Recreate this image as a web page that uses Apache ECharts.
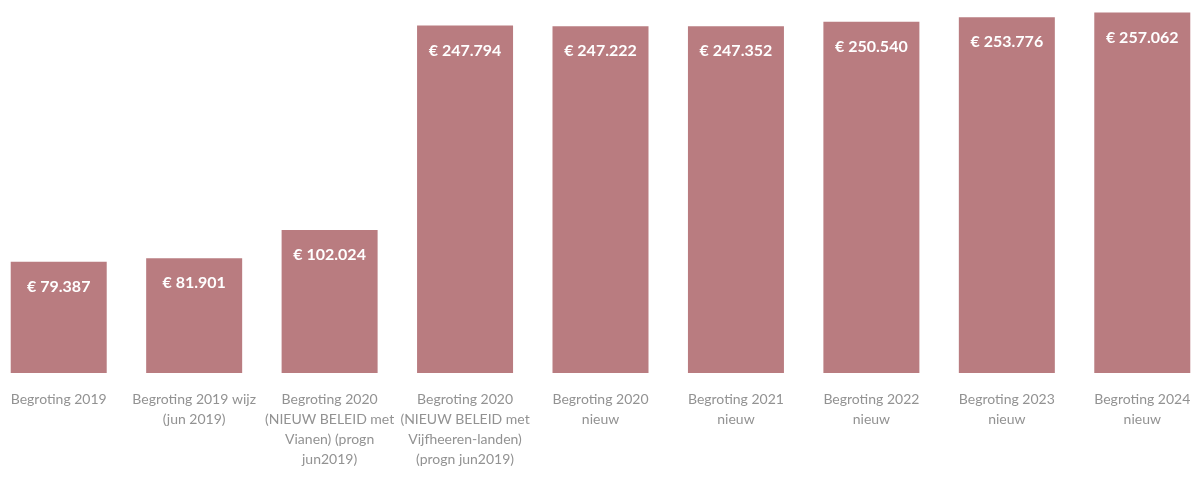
<!DOCTYPE html>
<html>
<head>
<meta charset="utf-8">
<script src="https://cdn.jsdelivr.net/npm/echarts@6/dist/echarts.min.js"></script>
<style>
    html, body { margin: 0; padding: 0; background: #fff; overflow: hidden; }
    #main { position: absolute; left: -9px; top: 0; width: 1219px; height: 480px; }
</style>
</head>
<body>
<div id="main"></div>
<script>
    "use strict";

    var categories = [
        "Begroting 2019",
        "Begroting 2019 wijz\n(jun 2019)",
        "Begroting 2020\n(NIEUW BELEID met\nVianen) (progn\njun2019)",
        "Begroting 2020\n(NIEUW BELEID met\nVijfheeren-landen)\n(progn jun2019)",
        "Begroting 2020\nnieuw",
        "Begroting 2021\nnieuw",
        "Begroting 2022\nnieuw",
        "Begroting 2023\nnieuw",
        "Begroting 2024\nnieuw"
    ];
    var values = [79387, 81901, 102024, 247794, 247222, 247352, 250540, 253776, 257062];

    function euro(v) {
        return "\u20ac " + String(v).replace(/\B(?=(\d{3})+(?!\d))/g, ".");
    }

    var myChart = echarts.init(document.getElementById('main'));

    var option = {
        backgroundColor: '#ffffff',
        animation: false,
        textStyle: { fontFamily: 'Lato' },
        grid: { left: 0, right: 0, top: 0, bottom: 107 },
        xAxis: {
            type: 'category',
            data: categories,
            axisLine: { show: false },
            axisTick: { show: false },
            axisLabel: {
                interval: 0,
                margin: 16,
                color: '#929292',
                fontSize: 14,
                lineHeight: 20,
                fontFamily: 'Lato'
            }
        },
        yAxis: {
            type: 'value',
            min: 0,
            max: 266000,
            show: false,
            splitLine: { show: false }
        },
        series: [{
            name: 'Begroting',
            type: 'bar',
            data: values,
            barWidth: 96,
            itemStyle: { color: '#b97c80' },
            label: {
                show: true,
                position: 'insideTop',
                distance: 17,
                color: '#ffffff',
                fontWeight: 'bold',
                fontSize: 16,
                fontFamily: 'Lato',
                formatter: function (p) { return euro(p.value); }
            }
        }]
    };

    myChart.setOption(option);
</script>
</body>
</html>
